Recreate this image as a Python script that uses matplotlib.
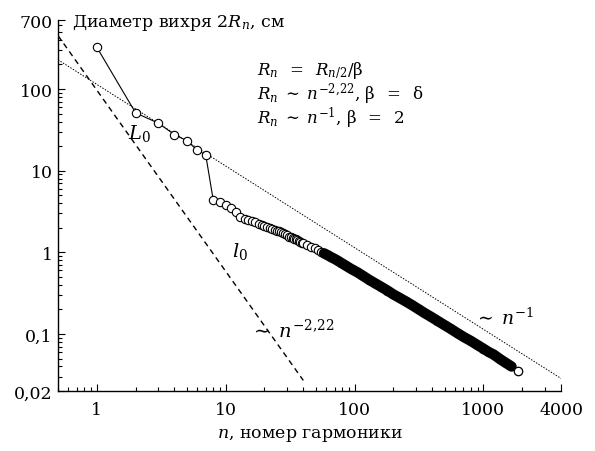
import matplotlib
matplotlib.use("Agg")
import matplotlib.pyplot as plt
from matplotlib.ticker import FixedLocator, LogLocator, NullFormatter

plt.rcParams['font.family'] = ['DejaVu Serif']
plt.rcParams['mathtext.fontset'] = 'dejavuserif'

# harmonic number n and vortex diameter 2R_n (cm)
n_vals = [1, 2, 3, 4, 5, 6, 7,
          8, 9, 10, 11, 12, 13, 14, 15, 16, 17, 18, 19, 20, 21, 22, 23, 24,
          25, 26, 27, 28, 29, 30, 31, 32, 33, 34, 35, 36, 37, 38, 39, 40,
          43, 46, 49, 52, 55, 58, 62, 66, 70, 74, 78, 85, 95, 105, 115, 130,
          145, 160, 180, 200, 225, 250, 280, 315, 350, 390, 440, 500, 560,
          630, 710, 800, 900, 1000, 1100, 1200, 1350, 1500, 1650, 1840]
d_vals = [325, 51, 38.2, 27.7, 23.3, 17.9, 15.6,
          4.4, 4.15, 3.8, 3.5, 3.15, 2.7, 2.58, 2.5, 2.42, 2.35, 2.25, 2.15,
          2.08, 2.02, 1.97, 1.92, 1.88, 1.84, 1.80, 1.76, 1.71, 1.66, 1.61,
          1.56, 1.53, 1.50, 1.47, 1.44, 1.40, 1.37, 1.34, 1.31, 1.29,
          1.23, 1.17, 1.12, 1.06, 1.01, 0.97, 0.92, 0.87, 0.83, 0.79, 0.75,
          0.69, 0.62, 0.57, 0.52, 0.46, 0.415, 0.38, 0.34, 0.305, 0.275,
          0.25, 0.225, 0.2, 0.18, 0.163, 0.145, 0.128, 0.115, 0.102, 0.091,
          0.082, 0.073, 0.066, 0.060, 0.056, 0.049, 0.044, 0.040, 0.035]

# reference power laws (end points)
law1_n = [0.5, 4000]
law1_d = [228, 0.0285]      # ~ n^-1
law2_n = [0.5, 40]
law2_d = [451, 0.027]       # ~ n^-2.22

xticks = [1, 10, 100, 1000, 4000]
xticklabels = ['1', '10', '100', '1000', '4000']
yticks = [0.02, 0.1, 1, 10, 100, 700]
yticklabels = ['0,02', '0,1', '1', '10', '100', '700']

fig = plt.figure(figsize=(5.95, 4.52), dpi=100)
ax = fig.add_axes([0.0975, 0.1327, 0.8454, 0.8208])
ax.set_xscale('log')
ax.set_yscale('log')
ax.set_xlim(0.5, 4000)
ax.set_ylim(0.02, 700)

ax.plot(law1_n, law1_d, color='black', lw=0.7, ls=(0, (1.5, 1.5)), zorder=1)
ax.plot(law2_n, law2_d, color='black', lw=1.0, ls=(0, (4, 3)), zorder=1)

ax.plot(n_vals, d_vals, color='black', lw=0.8, marker='o', ms=6,
        mfc='white', mec='black', mew=0.8, zorder=3)
band_start = n_vals.index(58)
ax.plot(n_vals[band_start:-1], d_vals[band_start:-1], color='black', lw=7.5,
        solid_capstyle='round', zorder=4)
ax.plot(n_vals[-1:], d_vals[-1:], ls='none', marker='o', ms=6,
        mfc='white', mec='black', mew=0.8, zorder=5)

for s in ['top', 'right']:
    ax.spines[s].set_visible(False)
for s in ['left', 'bottom']:
    ax.spines[s].set_linewidth(1.0)

ax.xaxis.set_major_locator(FixedLocator(xticks))
ax.set_xticklabels(xticklabels)
ax.xaxis.set_minor_locator(LogLocator(base=10, subs=range(2, 10), numticks=20))
ax.xaxis.set_minor_formatter(NullFormatter())
ax.yaxis.set_major_locator(FixedLocator(yticks))
ax.set_yticklabels(yticklabels)
ax.yaxis.set_minor_locator(LogLocator(base=10, subs=range(2, 10), numticks=20))
ax.yaxis.set_minor_formatter(NullFormatter())
ax.tick_params(which='both', direction='in', width=0.8, labelsize=12.5)
ax.tick_params(which='major', length=5)
ax.tick_params(which='minor', length=3)
ax.tick_params(axis='x', pad=7)
ax.tick_params(axis='y', pad=4)

ax.set_xlabel(r'$n$, номер гармоники', fontsize=12.5, labelpad=6)
fig.text(72 / 595, 1 - 27 / 452, r'Диаметр вихря 2$R_n$, см', fontsize=12.5,
         va='baseline', ha='left')

ax.text(0.395, 0.855, r'$R_n\;\;=\;\;R_{n/2}/\mathrm{\beta}$', transform=ax.transAxes,
        fontsize=12, va='baseline')
ax.text(0.395, 0.789, r'$R_n\;\sim\;n^{-2{,}22}$, $\mathrm{\beta}\;\;=\;\;\mathrm{\delta}$',
        transform=ax.transAxes, fontsize=12, va='baseline')
ax.text(0.395, 0.723, r'$R_n\;\sim\;n^{-1}$, $\mathrm{\beta}\;\;=\;\;2$',
        transform=ax.transAxes, fontsize=12, va='baseline')

ax.text(1.75, 25, r'$L_0$', fontsize=14)
ax.text(11.2, 0.9, r'$l_0$', fontsize=14)
ax.text(15.5, 0.093, r'$\sim\; n^{-2{,}22}$', fontsize=14)
ax.text(850, 0.135, r'$\sim\; n^{-1}$', fontsize=13.5)

fig.savefig('out.png', dpi=100)
